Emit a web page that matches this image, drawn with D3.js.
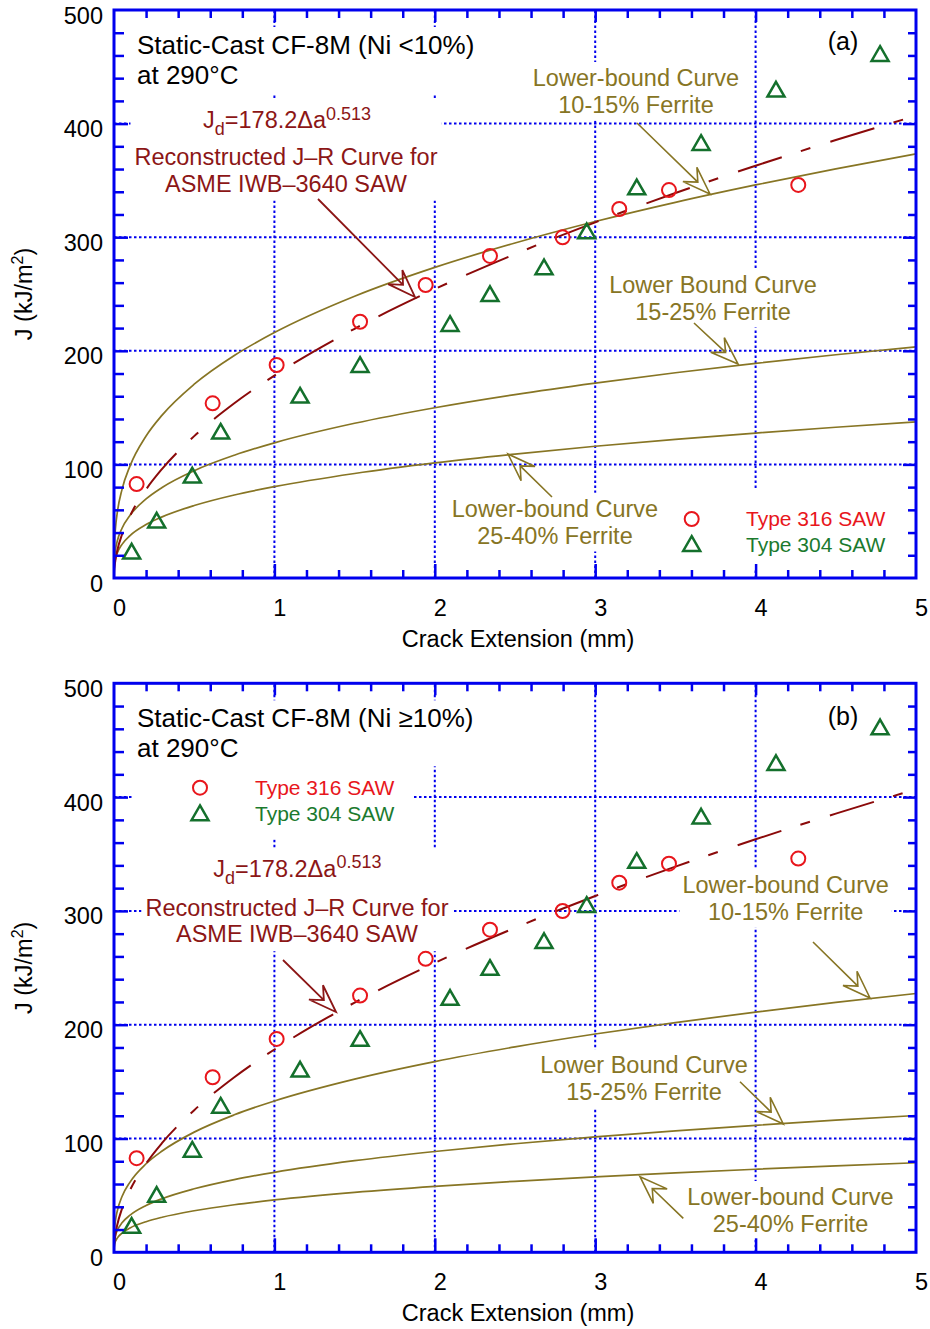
<!DOCTYPE html>
<html><head><meta charset="utf-8">
<script src="https://cdn.jsdelivr.net/npm/d3@7"></script>
<style>
body{margin:0;background:#fff;}
svg{display:block;font-family:"Liberation Sans",Arial,Helvetica,sans-serif;}
</style></head><body>
<svg id="chart" width="930" height="1329"></svg>
<script>
// ---------------- DATA ----------------
const xTickValues = [0, 1, 2, 3, 4, 5];
const xTickLabels = ["0", "1", "2", "3", "4", "5"];
const yTickValues = [0, 100, 200, 300, 400, 500];
const yTickLabels = ["0", "100", "200", "300", "400", "500"];

// crack extension (mm) at which the lower-bound curves were read
const curveExt = [0.001, 0.003, 0.01, 0.02, 0.05, 0.1, 0.2, 0.3, 0.5, 0.75, 1, 1.5, 2, 2.5, 3, 3.5, 4, 4.5, 5];
// (a) Ni < 10%
const lb1015A = [20.6, 30.0, 45.1, 57.1, 78.0, 98.7, 125.0, 143.4, 170.6, 195.9, 216, 248.0, 273.4, 294.9, 313.8, 330.7, 346.0, 360.2, 373.3];
const lb1525A = [11.9, 17.2, 25.6, 32.3, 43.8, 55.2, 69.6, 79.7, 94.5, 108.1, 119, 136.2, 149.9, 161.5, 171.6, 180.7, 188.9, 196.5, 203.5];
const lb2540A = [8.0, 11.6, 17.3, 21.8, 29.6, 37.3, 47.0, 53.8, 63.8, 73.1, 80.4, 92.0, 101.3, 109.1, 116.0, 122.1, 127.6, 132.7, 137.5];
// (b) Ni >= 10%
const lb1015B = [13.3, 19.2, 28.6, 36.1, 49.0, 61.7, 77.8, 89.0, 105.6, 120.8, 133, 152.2, 167.6, 180.5, 191.8, 201.9, 211.1, 219.6, 227.4];
const lb1525B = [7.0, 10.1, 15.1, 19.1, 25.9, 32.6, 41.1, 47.1, 55.8, 63.9, 70.3, 80.5, 88.6, 95.4, 101.4, 106.7, 111.6, 116.1, 120.2];
const lb2540B = [4.6, 6.6, 9.9, 12.5, 16.9, 21.4, 26.9, 30.8, 36.5, 41.8, 46, 52.7, 58.0, 62.4, 66.3, 69.8, 73.0, 76.0, 78.7];

// reconstructed J-R curve (dashed)
const jdExt = [0, 0.001, 0.003, 0.01, 0.02, 0.05, 0.1, 0.2, 0.3, 0.5, 0.75, 1, 1.5, 2, 2.5, 3, 3.5, 4, 4.5, 5];
const jdValues = [0, 5.1, 9.1, 16.8, 24.0, 38.3, 54.7, 78.0, 96.1, 124.9, 153.8, 178.2, 219.4, 254.3, 285.1, 313.1, 338.9, 362.9, 385.5, 406.9];

// data points
const saw316Ext = [0.141, 0.615, 1.014, 1.534, 1.943, 2.344, 2.797, 3.15, 3.46, 4.266];
const saw316J = [82.7, 153.8, 187.5, 225.6, 257.9, 283.5, 299.9, 324.8, 341.5, 346];
const saw304Ext = [0.11, 0.266, 0.488, 0.665, 1.16, 1.534, 2.095, 2.344, 2.681, 2.947, 3.259, 3.66, 4.127, 4.776];
const saw304J = [22.3, 49.6, 89.2, 127.9, 159.6, 186.6, 222.7, 249, 272.6, 304.3, 343, 382, 429, 460.4];

const seriesNames = ["Type 316 SAW", "Type 304 SAW"];

// ---------------- STYLE ----------------
const BLUE = "#0000ee", OLIVE = "#877524", DRED = "#8c1616", DASHRED = "#8b0a0a",
      RED = "#e8161c", GREEN = "#14702c";
const FS = 23.5;

const svg = d3.select("#chart");

function arrow(layer, s, t, color, width) {
  const dx = t[0] - s[0], dy = t[1] - s[1], len = Math.hypot(dx, dy);
  const u = [dx / len, dy / len], p = [-u[1], u[0]];
  const L = 28, w = 10, nd = 17;
  const b1 = [t[0] - L * u[0] + w * p[0], t[1] - L * u[1] + w * p[1]];
  const b2 = [t[0] - L * u[0] - w * p[0], t[1] - L * u[1] - w * p[1]];
  const n = [t[0] - nd * u[0], t[1] - nd * u[1]];
  layer.append("path")
    .attr("d", `M${s[0]},${s[1]}L${n[0]},${n[1]}M${t[0]},${t[1]}L${b1[0]},${b1[1]}L${n[0]},${n[1]}L${b2[0]},${b2[1]}Z`)
    .attr("fill", "none").attr("stroke", color).attr("stroke-width", width).attr("stroke-linejoin", "miter");
}

function panel(cfg) {
  const x = d3.scaleLinear().domain([0, 5]).range([114, 916]);
  const y = d3.scaleLinear().domain([0, 500]).range([cfg.bottom, cfg.top]);
  const g = svg.append("g");
  const gridL = g.append("g"), boxL = g.append("g"), dataL = g.append("g"),
        textL = g.append("g"), axisL = g.append("g");

  // grid
  const xg = xTickValues.slice(1, -1), yg = yTickValues.slice(1, -1);
  gridL.selectAll("line.gx").data(xg).join("line").attr("class", "gx")
    .attr("x1", d => x(d)).attr("x2", d => x(d)).attr("y1", y(0)).attr("y2", y(500));
  gridL.selectAll("line.gy").data(yg).join("line").attr("class", "gy")
    .attr("y1", d => y(d)).attr("y2", d => y(d)).attr("x1", x(0)).attr("x2", x(5));
  gridL.selectAll("line").attr("stroke", BLUE).attr("stroke-width", 2).attr("stroke-dasharray", "2.5,2.5");

  // curves
  const line = d3.line().x(d => x(d[0])).y(d => y(d[1])).curve(d3.curveMonotoneX);
  cfg.curves.forEach(c => {
    dataL.append("path").attr("d", line(d3.zip(curveExt, c)))
      .attr("fill", "none").attr("stroke", OLIVE).attr("stroke-width", 1.7);
  });
  dataL.append("path").attr("d", line(d3.zip(jdExt, jdValues)))
    .attr("fill", "none").attr("stroke", DASHRED).attr("stroke-width", 2)
    .attr("stroke-dasharray", "46,20,10,21");

  // markers
  dataL.selectAll("circle.s316").data(d3.zip(saw316Ext, saw316J)).join("circle")
    .attr("cx", d => x(d[0])).attr("cy", d => y(d[1])).attr("r", 7)
    .attr("fill", "none").attr("stroke", RED).attr("stroke-width", 2);
  const tri = d3.symbol(d3.symbolTriangle, 125);
  dataL.selectAll("path.s304").data(d3.zip(saw304Ext, saw304J)).join("path")
    .attr("transform", d => `translate(${x(d[0])},${y(d[1]) + 1})`).attr("d", tri)
    .attr("fill", "none").attr("stroke", GREEN).attr("stroke-width", 2.5);

  // helper: text group with white background box
  function textGroup(lines, opts) {
    const tg = textL.append("g");
    lines.forEach(l => {
      const t = tg.append("text").attr("x", l.x).attr("y", l.y)
        .attr("font-size", l.fs || FS).attr("fill", l.color)
        .attr("text-anchor", l.anchor || "middle");
      if (l.parts) {
        l.parts.forEach(pp => {
          const ts = t.append("tspan").text(pp.t);
          if (pp.fs) ts.attr("font-size", pp.fs);
          if (pp.dy) ts.attr("dy", pp.dy);
        });
      } else t.text(l.text);
    });
    if (opts && opts.box) {
      const bb = tg.node().getBBox();
      const p = opts.pad == null ? 3 : opts.pad;
      boxL.append("rect").attr("x", bb.x - p).attr("y", bb.y - p)
        .attr("width", bb.width + 2 * p).attr("height", bb.height + 2 * p).attr("fill", "#fff");
    }
    return tg;
  }

  // title
  textGroup([
    { text: cfg.title, x: 137, y: cfg.top + 44, fs: 26, color: "#000", anchor: "start" },
    { text: "at 290°C", x: 137, y: cfg.top + 74, fs: 26, color: "#000", anchor: "start" }
  ], { box: true, pad: 3 });
  textGroup([{ text: cfg.tag, x: 843, y: cfg.top + cfg.tagDy, fs: 25, color: "#000" }]);

  // reconstructed J-R label
  textGroup([
    { x: cfg.jd[0], y: cfg.jd[1], color: DRED, anchor: "start",
      parts: [{ t: "J" }, { t: "d", fs: 18, dy: 7 }, { t: "=178.2Δa", fs: FS, dy: -7 }, { t: "0.513", fs: 18, dy: -8.3 }] },
    { text: "Reconstructed J–R Curve for", x: cfg.rc[0], y: cfg.rc[1], color: DRED },
    { text: "ASME IWB–3640 SAW", x: cfg.rc[0], y: cfg.rc[1] + 26.5, color: DRED }
  ], { box: true, pad: 4 });
  arrow(textL, cfg.rcArrow[0], cfg.rcArrow[1], DRED, 1.8);

  // lower-bound labels
  cfg.lbLabels.forEach(lb => {
    textGroup([
      { text: lb.l1, x: lb.x, y: lb.y, color: OLIVE },
      { text: lb.l2, x: lb.x, y: lb.y + 26.8, color: OLIVE }
    ], { box: true, pad: 3 });
    arrow(textL, lb.a[0], lb.a[1], OLIVE, 1.6);
  });

  // legend
  const lg = cfg.legend;
  boxL.append("rect").attr("x", lg.sx - 68).attr("y", lg.r1 - 30)
    .attr("width", (lg.tx + 157) - (lg.sx - 68)).attr("height", (lg.r2 + 25) - (lg.r1 - 30)).attr("fill", "#fff");
  textL.append("circle").attr("cx", lg.sx).attr("cy", lg.r1).attr("r", 7)
    .attr("fill", "none").attr("stroke", RED).attr("stroke-width", 2);
  textL.append("path").attr("transform", `translate(${lg.sx},${lg.r2 + 1})`).attr("d", tri)
    .attr("fill", "none").attr("stroke", GREEN).attr("stroke-width", 2.5);
  textL.append("text").attr("x", lg.tx).attr("y", lg.r1 + 6.8).attr("font-size", 21).attr("fill", RED).text(seriesNames[0]);
  textL.append("text").attr("x", lg.tx).attr("y", lg.r2 + 6.8).attr("font-size", 21).attr("fill", "#1b7a2e").text(seriesNames[1]);

  // axes: minor + major inward ticks
  const xMinor = d3.range(1, 25).filter(i => i % 5 !== 0).map(i => i * 0.2);
  const yMinor = d3.range(1, 25).filter(i => i % 5 !== 0).map(i => i * 20);
  const addAxis = (axis, tr) => {
    const a = axisL.append("g").attr("transform", tr).call(axis);
    a.select(".domain").remove();
    a.selectAll("line").attr("stroke", BLUE).attr("stroke-width", 2.5);
    return a;
  };
  addAxis(d3.axisBottom(x).tickValues(xMinor).tickSize(-8).tickFormat(""), `translate(0,${y(0)})`);
  addAxis(d3.axisTop(x).tickValues(xMinor).tickSize(-8).tickFormat(""), `translate(0,${y(500)})`);
  addAxis(d3.axisLeft(y).tickValues(yMinor).tickSize(-10).tickFormat(""), `translate(${x(0)},0)`);
  addAxis(d3.axisRight(y).tickValues(yMinor).tickSize(-8).tickFormat(""), `translate(${x(5)},0)`);
  addAxis(d3.axisBottom(x).tickValues(xg).tickSize(-14).tickFormat(""), `translate(0,${y(0)})`);
  addAxis(d3.axisTop(x).tickValues(xg).tickSize(-12).tickFormat(""), `translate(0,${y(500)})`);
  addAxis(d3.axisLeft(y).tickValues(yg).tickSize(-14).tickFormat(""), `translate(${x(0)},0)`);
  addAxis(d3.axisRight(y).tickValues(yg).tickSize(-13).tickFormat(""), `translate(${x(5)},0)`);

  // tick labels
  const xl = axisL.append("g").attr("transform", `translate(0,${y(0)})`)
    .call(d3.axisBottom(x).tickValues(xTickValues).tickSize(0).tickFormat((d, i) => xTickLabels[i]));
  xl.select(".domain").remove();
  xl.attr("font-family", null).attr("font-size", FS);
  xl.selectAll("text").attr("y", 38).attr("dy", null).attr("x", 5).attr("fill", "#000");
  const yl = axisL.append("g").attr("transform", `translate(${x(0)},0)`)
    .call(d3.axisLeft(y).tickValues(yTickValues).tickSize(0).tickFormat((d, i) => yTickLabels[i]));
  yl.select(".domain").remove();
  yl.attr("font-family", null).attr("font-size", FS);
  yl.selectAll("text").attr("x", -11).attr("dy", 13).attr("fill", "#000");

  // frame
  axisL.append("rect").attr("x", x(0)).attr("y", y(500)).attr("width", x(5) - x(0)).attr("height", y(0) - y(500))
    .attr("fill", "none").attr("stroke", BLUE).attr("stroke-width", 3);

  // axis titles
  axisL.append("text").attr("x", 518).attr("y", y(0) + 69).attr("text-anchor", "middle")
    .attr("font-size", FS).attr("fill", "#000").text("Crack Extension (mm)");
  const yt = axisL.append("text").attr("transform", `translate(32,${(y(0) + y(500)) / 2}) rotate(-90)`)
    .attr("text-anchor", "middle").attr("font-size", FS).attr("fill", "#000");
  yt.append("tspan").text("J (kJ/m");
  yt.append("tspan").text("2").attr("font-size", 16).attr("dy", -9);
  yt.append("tspan").text(")").attr("dy", 9);
}

panel({
  top: 10, bottom: 578,
  title: "Static-Cast CF-8M (Ni <10%)", tag: "(a)", tagDy: 40,
  curves: [lb1015A, lb1525A, lb2540A],
  jd: [203, 128.3], rc: [286, 165], rcArrow: [[318, 199], [415, 297]],
  lbLabels: [
    { l1: "Lower-bound Curve", l2: "10-15% Ferrite", x: 636, y: 86, a: [[637, 123], [710, 194]] },
    { l1: "Lower Bound Curve", l2: "15-25% Ferrite", x: 713, y: 292.7, a: [[694, 323], [738, 364]] },
    { l1: "Lower-bound Curve", l2: "25-40% Ferrite", x: 555, y: 516.7, a: [[552, 497], [508, 454]] }
  ],
  legend: { sx: 691.7, tx: 746, r1: 519, r2: 545 }
});

panel({
  top: 683.3, bottom: 1252.3,
  title: "Static-Cast CF-8M (Ni ≥10%)", tag: "(b)", tagDy: 42,
  curves: [lb1015B, lb1525B, lb2540B],
  jd: [213.3, 876.7], rc: [297, 915.7], rcArrow: [[283, 960], [336, 1012]],
  lbLabels: [
    { l1: "Lower-bound Curve", l2: "10-15% Ferrite", x: 785.6, y: 892.7, a: [[813, 942], [870, 998]] },
    { l1: "Lower Bound Curve", l2: "15-25% Ferrite", x: 644, y: 1073.3, a: [[740, 1081.7], [783.3, 1124]] },
    { l1: "Lower-bound Curve", l2: "25-40% Ferrite", x: 790.5, y: 1205, a: [[683.3, 1218.3], [640, 1176.7]] }
  ],
  legend: { sx: 200, tx: 255, r1: 787.7, r2: 814.3 }
});
</script>
</body></html>
